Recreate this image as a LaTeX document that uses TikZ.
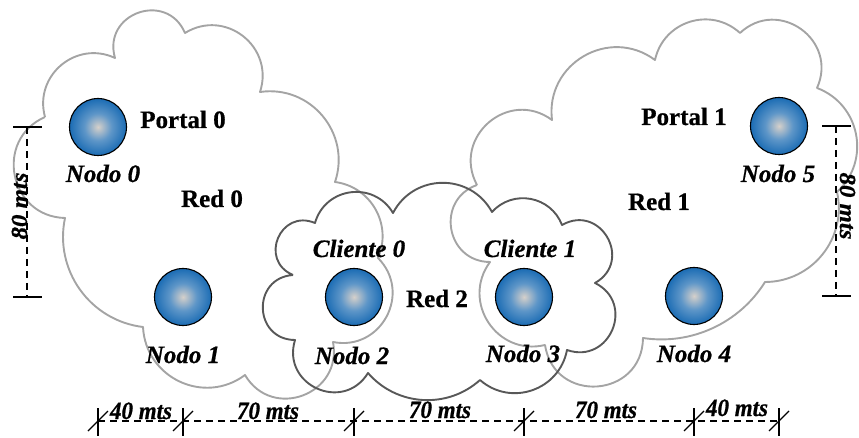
\documentclass[tikz,border=0pt]{standalone}
\usepackage{fontspec}
\setmainfont{Liberation Serif}[BoldFeatures={FakeBold=0.7},BoldItalicFeatures={FakeBold=0.7}]
\usetikzlibrary{calc}
\definecolor{cloudlight}{HTML}{A4A4A4}
\definecolor{clouddark}{HTML}{585858}
\definecolor{ballin}{HTML}{D6D0CA}
\definecolor{ballmid}{HTML}{5E96C8}
\definecolor{ballout}{HTML}{1B6CB4}
\pgfdeclareradialshading{ballshade}{\pgfpoint{0bp}{0bp}}{color(0bp)=(ballin); color(12bp)=(ballmid); color(25bp)=(ballout); color(50bp)=(ballout)}
\tikzset{
  bmp/.code={\pgfmathsetmacro\bmpang{2*atan(2*#1)}\pgfmathsetmacro\bmploose{0.8514*(1+4*#1*#1)}\edef\bmptmp{\noexpand\tikzset{bend left=\bmpang,looseness=\bmploose}}\bmptmp},
  cloudA/.style={draw=cloudlight, line width=1.9pt, line join=round},
  cloudB/.style={draw=clouddark, line width=1.9pt, line join=round},
  ball/.style={circle, minimum size=57pt, inner sep=0pt, draw=black, line width=1.1pt, shading=ballshade},
  lbl/.style={font=\fontsize{25}{29}\selectfont\bfseries, anchor=base, inner sep=0pt},
  ilbl/.style={font=\fontsize{25}{29}\selectfont\bfseries\itshape, anchor=base, inner sep=0pt},
  dimlbl/.style={font=\fontsize{23}{27}\selectfont\bfseries\itshape, anchor=base, inner sep=0pt, yscale=1.08},
  dimline/.style={draw=black, line width=1.2pt, dash pattern=on 7pt off 5pt},
  tickline/.style={draw=black, line width=1.1pt},
}
\begin{document}
\begin{tikzpicture}[x=1pt,y=-1pt]
\useasboundingbox (0,0) rectangle (859,438);

% Red 0 cloud
\draw[cloudA] (45,117) to[bmp=.32] (115,58) to[bmp=.47] (185,33) to[bmp=.35] (260,92)
  to[bmp=.28] (335,182) to[bmp=.25] (378,258) to[bmp=.37] (333,342) to[bmp=.42] (245,375)
  to[bmp=.3] (143,327) to[bmp=.22] (65,218) to[bmp=.4] (45,117);
% Red 1 cloud
\draw[cloudA] (477,185) to[bmp=.4] (552,120) to[bmp=.33] (655,60) to[bmp=.29] (740,33)
  to[bmp=.41] (817,88) to[bmp=.28] (837,192) to[bmp=.24] (765,282) to[bmp=.15] (643,338)
  to[bmp=.46] (545,345) to[bmp=.35] (490,262) to[bmp=.42] (477,185);
% Red 2 cloud
\draw[cloudB] (293,275) to[bmp=.5] (315,223) to[bmp=.33] (393,213) to[bmp=.3] (492,212)
  to[bmp=.28] (562,225) to[bmp=.5] (595,283) to[bmp=.47] (567,350) to[bmp=.29] (480,380)
  to[bmp=.21] (368,373) to[bmp=.44] (295,340) to[bmp=.48] (293,275);

% nodes
\node[ball] (n0) at (98,127) {};
\node[ball] (n1) at (183,297) {};
\node[ball] (n2) at (354,297) {};
\node[ball] (n3) at (524,297) {};
\node[ball] (n4) at (694,296) {};
\node[ball] (n5) at (779,126) {};

% labels
\node[lbl] (portal0) at (183,128) {Portal 0};
\node[ilbl] (nodo0) at (103,182) {Nodo 0};
\node[lbl] (red0) at (212,207) {Red 0};
\node[ilbl] (nodo1) at (183,363) {Nodo 1};
\node[ilbl] (cli0) at (359,257) {Cliente 0};
\node[ilbl] (nodo2) at (352,364) {Nodo 2};
\node[lbl] (red2) at (437,307) {Red 2};
\node[ilbl] (cli1) at (530,257) {Cliente 1};
\node[ilbl] (nodo3) at (523,362) {Nodo 3};
\node[ilbl] (nodo4) at (694,362) {Nodo 4};
\node[lbl] (portal1) at (684,125) {Portal 1};
\node[ilbl] (nodo5) at (778,182) {Nodo 5};
\node[lbl] (red1) at (659,210) {Red 1};

% left vertical dimension
\coordinate (la) at (27,127);
\coordinate (lb) at (27,297);
\draw[dimline] (la) -- (lb);
\draw[tickline] (la) ++(-14,0) -- ++(29,0);
\draw[tickline] (lb) ++(-14,0) -- ++(29,0);
\node[dimlbl, rotate=90] (dl) at (27,206) {80 mts};

% right vertical dimension
\coordinate (ra) at (836,126);
\coordinate (rb) at (836,296);
\draw[dimline] (ra) -- (rb);
\draw[tickline] (ra) ++(-14,0) -- ++(29,0);
\draw[tickline] (rb) ++(-14,0) -- ++(29,0);
\node[dimlbl, rotate=-90] (dr) at (840,206) {80 mts};

% bottom dimension
\coordinate (bl) at (0,421);
\draw[dimline] (n0 |- bl) -- (n5 |- bl);
\foreach \n in {n0,n1,n2,n3,n4,n5}{
  \draw[tickline] (\n |- bl) ++(0,-13) -- ++(0,28);
  \draw[tickline] (\n |- bl) ++(-10,10) -- ++(20,-20);
}
\node[dimlbl] (m1) at (141,419) {40 mts};
\node[dimlbl] (m2) at (268,419) {70 mts};
\node[dimlbl] (m3) at (440,418) {70 mts};
\node[dimlbl] (m4) at (606,418) {70 mts};
\node[dimlbl] (m5) at (737,416) {40 mts};
\end{tikzpicture}
\end{document}
